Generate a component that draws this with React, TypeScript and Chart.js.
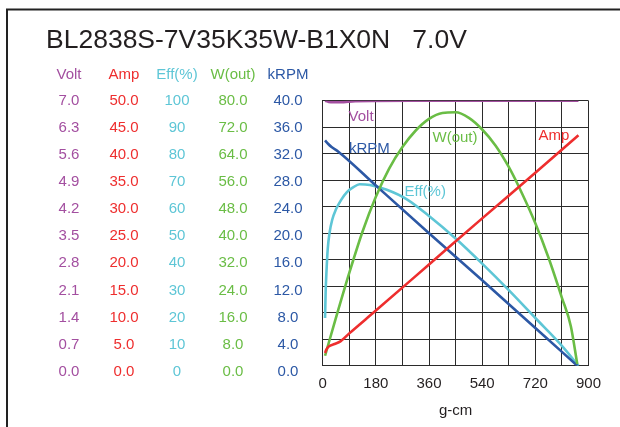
import React, { useEffect, useRef } from 'react';
import { Chart, registerables } from 'chart.js';

Chart.register(...registerables);

const FONT = "'Liberation Sans', Arial, Helvetica, sans-serif";

const titleText = 'BL2838S-7V35K35W-B1X0N   7.0V';
const xTitle = 'g-cm';

// x axis (torque, g-cm)
const xTickValues = [0, 90, 180, 270, 360, 450, 540, 630, 720, 810, 900];
const xTickLabels = ['0', '', '180', '', '360', '', '540', '', '720', '', '900'];

// left-hand tick columns
const voltTickLabels = ['0.0', '0.7', '1.4', '2.1', '2.8', '3.5', '4.2', '4.9', '5.6', '6.3', '7.0'];
const ampTickLabels = ['0.0', '5.0', '10.0', '15.0', '20.0', '25.0', '30.0', '35.0', '40.0', '45.0', '50.0'];
const effTickLabels = ['0', '10', '20', '30', '40', '50', '60', '70', '80', '90', '100'];
const wTickLabels = ['0.0', '8.0', '16.0', '24.0', '32.0', '40.0', '48.0', '56.0', '64.0', '72.0', '80.0'];
const rpmTickLabels = ['0.0', '4.0', '8.0', '12.0', '16.0', '20.0', '24.0', '28.0', '32.0', '36.0', '40.0'];

// series
const voltTorque = [8, 20, 60, 110, 300, 600, 866];
const voltValues = [7.0, 6.97, 6.96, 6.99, 7.0, 7.0, 7.0];

const ampTorque = [8, 12, 20, 40, 60, 90, 180, 360, 540, 720, 866];
const ampValues = [2.4, 3.0, 3.6, 4.1, 4.6, 6.1, 10.4, 19.1, 27.8, 36.4, 43.5];

const effTorque = [8, 10, 13, 17, 23, 32, 45, 62, 82, 103, 125, 160, 217, 285, 360, 450, 540, 630, 720, 810, 866];
const effValues = [18, 28, 36, 44, 50, 55, 59, 62.5, 65.5, 67.3, 68.5, 68.2, 66.4, 62.8, 56.5, 48, 38.5, 28.5, 18, 7.5, 0];

const wTorque = [8, 45, 90, 135, 180, 225, 270, 315, 360, 405, 450, 495, 540, 585, 630, 675, 720, 765, 810, 840, 862];
const wValues = [3.0, 14.5, 28, 40.5, 51, 59.5, 66, 71, 74.5, 76.3, 76.5, 74.8, 71.3, 66.5, 60, 52, 43, 32.5, 20.5, 12, 0.5];

const rpmTorque = [8, 18, 30, 53, 180, 360, 540, 720, 862];
const rpmValues = [34.0, 33.5, 33.0, 32.3, 27.2, 20.0, 12.9, 5.7, 0];

const COLORS = {
  volt: '#A34FA0',
  amp: '#EE2E2E',
  eff: '#5EC6D6',
  w: '#6ABD45',
  rpm: '#2C58A5',
};

const seriesLabels = { volt: 'Volt', amp: 'Amp', eff: 'Eff(%)', w: 'W(out)', rpm: 'kRPM' };

const toPts = (xs: number[], ys: number[]) => xs.map((x, i) => ({ x, y: ys[i] }));

const AXIS_W = 54.7;
// the tick columns are spaced slightly wider than the grid: bottom label sits ~6px below the plot
const LABEL_STRETCH = 6 / 271;
const GRID = '#2b2b2b';

// label-only axes (text columns at the left)
function labelAxis(labels: string[], color: string, weight: number, padding: number) {
  const values = labels.map(Number);
  const max = values[values.length - 1];
  return {
    type: 'linear',
    position: 'left',
    weight,
    min: max * LABEL_STRETCH,
    max,
    afterBuildTicks: (axis: any) => {
      axis.ticks = values.map((value) => ({ value }));
    },
    afterFit: (axis: any) => {
      axis.width = AXIS_W;
    },
    ticks: {
      autoSkip: false,
      crossAlign: 'center',
      padding,
      color,
      font: { family: FONT, size: 15 },
      callback: (_v: any, i: number) => labels[i],
    },
    grid: { display: false, drawTicks: false },
    border: { display: false },
  };
}

// data axes (true ranges)
function dataAxis(labels: string[], shown: boolean) {
  const values = labels.map(Number);
  return {
    type: 'linear',
    position: 'left',
    weight: 0,
    display: shown,
    min: values[0],
    max: values[values.length - 1],
    afterBuildTicks: (axis: any) => {
      axis.ticks = values.map((value) => ({ value }));
    },
    afterFit: (axis: any) => {
      axis.width = 0;
    },
    ticks: { display: false, autoSkip: false },
    grid: { display: shown, drawTicks: false, color: GRID, lineWidth: 1 },
    border: { display: shown, color: GRID, width: 1 },
  };
}

const plotLabels = [
  { key: 'volt', x: 130, y: 37.6 },
  { key: 'rpm', x: 158, y: 32.8 },
  { key: 'w', x: 448, y: 34.4 },
  { key: 'amp', x: 783, y: 34.7 },
  { key: 'eff', x: 347, y: 26.3 },
];

const decorPlugin = {
  id: 'decor',
  afterDraw(chart: any) {
    const ctx = chart.ctx;
    ctx.save();
    // frame
    ctx.strokeStyle = '#222';
    ctx.lineWidth = 2;
    ctx.beginPath();
    ctx.moveTo(7, 430);
    ctx.lineTo(7, 9.5);
    ctx.lineTo(625, 9.5);
    ctx.stroke();

    // title
    ctx.fillStyle = '#231f20';
    ctx.font = `26.5px ${FONT}`;
    ctx.textAlign = 'left';
    ctx.textBaseline = 'alphabetic';
    ctx.fillText(titleText, 46, 47.5);

    // column headers
    const heads: [string, string, string][] = [
      ['lV', seriesLabels.volt, COLORS.volt],
      ['lA', seriesLabels.amp, COLORS.amp],
      ['lE', seriesLabels.eff, COLORS.eff],
      ['lW', seriesLabels.w, COLORS.w],
      ['lR', seriesLabels.rpm, COLORS.rpm],
    ];
    ctx.font = `15px ${FONT}`;
    ctx.textAlign = 'center';
    ctx.textBaseline = 'middle';
    heads.forEach(([id, text, color]) => {
      const s = chart.scales[id];
      let widest = 0;
      s.ticks.forEach((t: any) => {
        widest = Math.max(widest, ctx.measureText(String(t.label)).width);
      });
      const cx = s.right - s.options.ticks.padding - widest / 2;
      ctx.fillStyle = color;
      ctx.fillText(text, cx, 74.5);
    });

    // in-plot series labels
    const xs = chart.scales.x;
    const yr = chart.scales.dR;
    plotLabels.forEach((l) => {
      ctx.fillStyle = (COLORS as any)[l.key];
      ctx.fillText((seriesLabels as any)[l.key], xs.getPixelForValue(l.x), yr.getPixelForValue(l.y));
    });
    ctx.restore();
  },
};

export default function App() {
  const ref = useRef<HTMLCanvasElement | null>(null);

  useEffect(() => {
    if (!ref.current) return;
    const line = (label: string, data: any[], color: string, yAxisID: string) => ({
      label,
      data,
      yAxisID,
      borderColor: color,
      backgroundColor: color,
      borderWidth: 2.6,
      pointRadius: 0,
      fill: false,
      cubicInterpolationMode: 'monotone',
    });
    const chart = new Chart(ref.current, {
      type: 'line',
      data: {
        datasets: [
          line(seriesLabels.amp, toPts(ampTorque, ampValues), COLORS.amp, 'dA'),
          line(seriesLabels.w, toPts(wTorque, wValues), COLORS.w, 'dW'),
          line(seriesLabels.rpm, toPts(rpmTorque, rpmValues), COLORS.rpm, 'dR'),
          line(seriesLabels.eff, toPts(effTorque, effValues), COLORS.eff, 'dE'),
          line(seriesLabels.volt, toPts(voltTorque, voltValues), COLORS.volt, 'dV'),
        ] as any,
      },
      options: {
        responsive: false,
        animation: false,
        devicePixelRatio: 1,
        layout: { padding: { left: 49.2, top: 100.7, right: 31.5, bottom: 0 } },
        plugins: { legend: { display: false }, tooltip: { enabled: false }, title: { display: false } },
        scales: {
          x: {
            type: 'linear',
            min: 0,
            max: 900,
            afterBuildTicks: (axis: any) => {
              axis.ticks = xTickValues.map((value) => ({ value }));
            },
            afterFit: (axis: any) => {
              axis.height = 61.3;
            },
            ticks: {
              autoSkip: false,
              maxRotation: 0,
              padding: 9,
              color: '#231f20',
              font: { family: FONT, size: 15 },
              callback: (_v: any, i: number) => xTickLabels[i],
            },
            grid: { drawTicks: false, color: GRID, lineWidth: 1 },
            border: { color: GRID, width: 1 },
            title: {
              display: true,
              text: xTitle,
              color: '#231f20',
              font: { family: FONT, size: 15 },
              padding: { top: 0, bottom: 7 },
            },
          },
          lV: labelAxis(voltTickLabels, COLORS.volt, 5, 24.5),
          lA: labelAxis(ampTickLabels, COLORS.amp, 4, 20),
          lE: labelAxis(effTickLabels, COLORS.eff, 3, 23.8),
          lW: labelAxis(wTickLabels, COLORS.w, 2, 20.4),
          lR: labelAxis(rpmTickLabels, COLORS.rpm, 1, 20.1),
          dV: dataAxis(voltTickLabels, false),
          dA: dataAxis(ampTickLabels, false),
          dE: dataAxis(effTickLabels, false),
          dW: dataAxis(wTickLabels, false),
          dR: dataAxis(rpmTickLabels, true),
        } as any,
      },
      plugins: [decorPlugin],
    });
    return () => chart.destroy();
  }, []);

  return (
    <div style={{ position: 'absolute', left: 0, top: 0, width: 620, height: 427, background: '#fff' }}>
      <canvas ref={ref} width={620} height={427} style={{ display: 'block' }} />
    </div>
  );
}
